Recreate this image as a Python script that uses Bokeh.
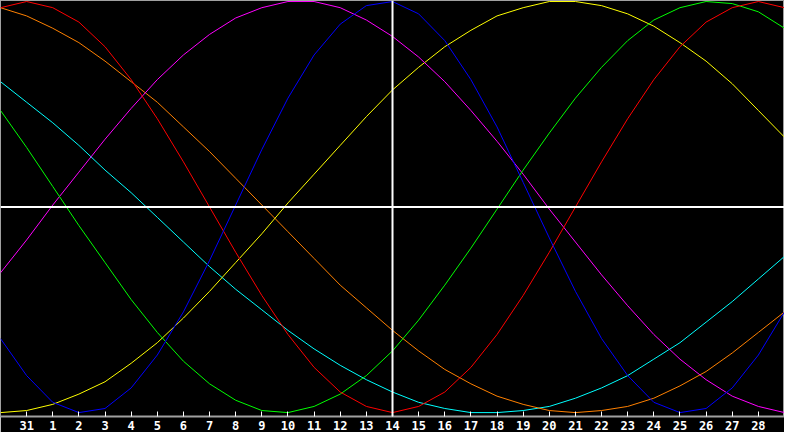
from bokeh.plotting import figure
from bokeh.models import Range1d, FixedTicker, Span
from bokeh.embed import file_html
from bokeh.resources import INLINE

# day positions (index 0 = the 31st of the previous month)
days = [-1, 0, 1, 2, 3, 4, 5, 6, 7, 8, 9, 10, 11, 12, 13, 14, 15, 16, 17, 18,
        19, 20, 21, 22, 23, 24, 25, 26, 27, 28, 29]
tick_positions = [0, 1, 2, 3, 4, 5, 6, 7, 8, 9, 10, 11, 12, 13, 14, 15, 16, 17,
                  18, 19, 20, 21, 22, 23, 24, 25, 26, 27, 28]
tick_labels = ["31", "1", "2", "3", "4", "5", "6", "7", "8", "9", "10", "11",
               "12", "13", "14", "15", "16", "17", "18", "19", "20", "21",
               "22", "23", "24", "25", "26", "27", "28"]
today = 14

blue = [-0.64, -0.82, -0.95, -1.00, -0.98, -0.88, -0.72, -0.51, -0.26, 0.01,
        0.28, 0.53, 0.74, 0.89, 0.98, 1.00, 0.94, 0.81, 0.62, 0.39, 0.12,
        -0.15, -0.41, -0.64, -0.82, -0.95, -1.00, -0.98, -0.88, -0.72, -0.51]
red = [0.97, 1.00, 0.97, 0.90, 0.78, 0.62, 0.43, 0.22, 0.00, -0.22, -0.43,
       -0.62, -0.78, -0.90, -0.97, -1.00, -0.97, -0.90, -0.78, -0.62, -0.43,
       -0.22, 0.00, 0.22, 0.43, 0.62, 0.78, 0.90, 0.97, 1.00, 0.97]
green = [0.47, 0.29, 0.10, -0.09, -0.27, -0.45, -0.61, -0.75, -0.86, -0.94,
         -0.99, -1.00, -0.97, -0.91, -0.82, -0.70, -0.55, -0.38, -0.20, -0.01,
         0.18, 0.36, 0.53, 0.68, 0.81, 0.91, 0.97, 1.00, 0.99, 0.95, 0.87]
magenta = [-0.32, -0.16, 0.01, 0.17, 0.33, 0.48, 0.62, 0.74, 0.84, 0.92, 0.97,
           1.00, 1.00, 0.97, 0.91, 0.83, 0.73, 0.61, 0.47, 0.32, 0.16, -0.01,
           -0.17, -0.33, -0.48, -0.62, -0.74, -0.84, -0.92, -0.97, -1.00]
yellow = [-1.00, -0.99, -0.96, -0.91, -0.85, -0.76, -0.66, -0.54, -0.41,
          -0.27, -0.13, 0.02, 0.16, 0.30, 0.44, 0.57, 0.68, 0.78, 0.86, 0.93,
          0.97, 1.00, 1.00, 0.98, 0.94, 0.88, 0.80, 0.71, 0.60, 0.47, 0.34]
orange = [0.97, 0.93, 0.87, 0.80, 0.71, 0.61, 0.51, 0.39, 0.27, 0.14, 0.01,
          -0.12, -0.25, -0.38, -0.49, -0.60, -0.70, -0.79, -0.86, -0.92,
          -0.96, -0.99, -1.00, -0.99, -0.97, -0.93, -0.87, -0.80, -0.71,
          -0.61, -0.51]
cyan = [0.61, 0.51, 0.41, 0.30, 0.18, 0.07, -0.05, -0.17, -0.29, -0.40, -0.50,
        -0.60, -0.69, -0.77, -0.84, -0.90, -0.95, -0.98, -1.00, -1.00, -0.99,
        -0.97, -0.93, -0.88, -0.82, -0.74, -0.66, -0.56, -0.46, -0.35, -0.24]

series = [
    (cyan, "#00ffff"),
    (orange, "#ff8000"),
    (yellow, "#ffff00"),
    (magenta, "#ff00ff"),
    (green, "#00ff00"),
    (red, "#ff0000"),
    (blue, "#0000ff"),
]

p = figure(width=784, height=432, x_range=Range1d(-1, 29),
           y_range=Range1d(-1.019, 1.005), output_backend="svg",
           toolbar_location=None, y_axis_location=None, min_border=0)
p.background_fill_color = "black"
p.border_fill_color = "black"
p.outline_line_color = "#a0a0a0"
p.outline_line_width = 1
p.xgrid.visible = False
p.ygrid.visible = False

p.add_layout(Span(location=0, dimension="width", line_color="white",
                  line_width=2))
p.add_layout(Span(location=today, dimension="height", line_color="white",
                  line_width=2))

for vals, col in series:
    p.line(days, vals, line_color=col, line_width=1)

ax = p.xaxis[0]
ax.ticker = FixedTicker(ticks=tick_positions)
ax.major_label_overrides = {t: l for t, l in zip(tick_positions, tick_labels)}
ax.axis_line_color = "#a0a0a0"
ax.axis_line_width = 2
ax.major_tick_line_color = "white"
ax.major_tick_line_width = 1
ax.major_tick_in = 5
ax.major_tick_out = 0
ax.minor_tick_line_color = None
ax.major_label_text_color = "white"
ax.major_label_text_font = "DejaVu Sans Mono"
ax.major_label_text_font_style = "bold"
ax.major_label_text_font_size = "12px"
ax.major_label_standoff = 4

open("out.html", "w").write(file_html(p, INLINE))
